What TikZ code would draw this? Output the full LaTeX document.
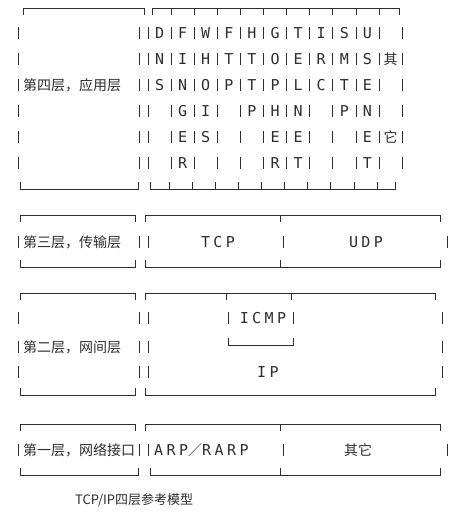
\documentclass[tikz,border=0pt]{standalone}
\usepackage{fontspec}
\setmainfont{Noto Sans CJK SC}
\newfontfamily\monofont[LetterSpace=23]{DejaVu Sans Mono}
\definecolor{inkgray}{RGB}{45,45,45}
\newcommand{\boxtop}[3]{\draw[rule] (#1,#3+7) -- (#1,#3) -- (#2,#3) -- (#2,#3+7);}
\newcommand{\boxbot}[3]{\draw[rule] (#1,#3-7) -- (#1,#3) -- (#2,#3) -- (#2,#3-7);}
\newcommand{\vbar}[2]{\draw[rule] (#1,#2-6) -- (#1,#2+6);}

\begin{document}
\begin{tikzpicture}[x=1pt,y=-1pt,
	rule/.style={line width=0.8pt,color=inkgray},
	lbl/.style={inner sep=0pt,font=\fontsize{14}{14}\selectfont,text=inkgray},
	ltr/.style={inner sep=0pt,font=\monofont\fontsize{15}{15}\selectfont,text=inkgray}]
		\useasboundingbox (0,0) rectangle (461,519);
%		application layer
		\boxtop{23}{144}{8}
		\boxbot{20}{138}{189}
		\boxtop{152}{399}{8}
		\boxbot{150}{395}{189}
		\foreach \k in {1,...,10} \draw[rule] (148+23.1*\k,8) -- (148+23.1*\k,15);
		\foreach \k in {1,...,10} \draw[rule] (146+23.1*\k,189) -- (146+23.1*\k,182);
		\foreach \y in {33,59,85,111,137,163} {
			\vbar{18}{\y} \vbar{139}{\y}
			\foreach \k in {0,...,11} {\vbar{148+23.1*\k}{\y}}
		}
		\node[lbl,anchor=west] (app) at (23,85) {第四层，应用层};
		\foreach \row [count=\r] in {{D,F,W,F,H,G,T,I,S,U,{}},{N,I,H,T,T,O,E,R,M,S,{}},
			{S,N,O,P,T,P,L,C,T,E,{}},{{},G,I,{},P,H,N,{},P,N,{}},
			{{},E,S,{},{},E,E,{},{},E,{}},{{},R,{},{},{},R,T,{},{},T,{}}}
			\foreach \ch [count=\c] in \row
				\node[ltr] (c\r-\c) at ({148+23.1*(\c-0.5)},{7+26*\r}) {\ch};
		\node[lbl] (qi) at (390.5,59) {其};
		\node[lbl] (ta) at (390.5,137) {它};
%		transport layer
		\boxtop{20}{135}{215}
		\boxbot{20}{135}{267}
		\boxtop{145}{440}{215}
		\boxbot{145}{440}{267}
		\draw[rule] (280,215) -- (280,222) (280,267) -- (280,260);
		\foreach \x in {18,139,148,283,447} {\vbar{\x}{242}}
		\node[lbl,anchor=west] (tra) at (23,242) {第三层，传输层};
		\node[ltr] (tcp) at (218,242) {TCP};
		\node[ltr] (udp) at (366,242) {UDP};
%		internet layer
		\boxtop{20}{135}{293}
		\boxbot{20}{135}{395}
		\boxtop{145}{435}{293}
		\boxbot{145}{435}{395}
		\draw[rule] (226,293) -- (226,300) (291,293) -- (291,300);
		\boxbot{228}{293}{345}
		\foreach \y in {318,347,372} {
			\vbar{18}{\y} \vbar{139}{\y} \vbar{148}{\y} \vbar{442}{\y}
		}
		\vbar{228}{318} \vbar{293}{318}
		\node[lbl,anchor=west] (net) at (23,347) {第二层，网间层};
		\node[ltr] (icmp) at (263,318) {ICMP};
		\node[ltr] (ip) at (268,372) {IP};
%		network interface layer
		\boxtop{20}{135}{424}
		\boxbot{20}{138}{475}
		\boxtop{145}{440}{424}
		\boxbot{150}{440}{475}
		\draw[rule] (280,424) -- (280,431) (280,475) -- (280,468);
		\foreach \x in {18,139,148,283,447} {\vbar{\x}{450}}
		\node[lbl,anchor=west] (link) at (23,450) {第一层，网络接口};
		\node[ltr,anchor=west] (arp) at (154,450) {ARP{\normalfont\fontsize{14}{14}\selectfont／}RARP};
		\node[lbl] (other) at (358,450) {其它};
		\node[lbl,font=\fontsize{13}{13}\selectfont,anchor=west] (title) at (75,500) {TCP/IP四层参考模型};
	\end{tikzpicture}
\end{document}
